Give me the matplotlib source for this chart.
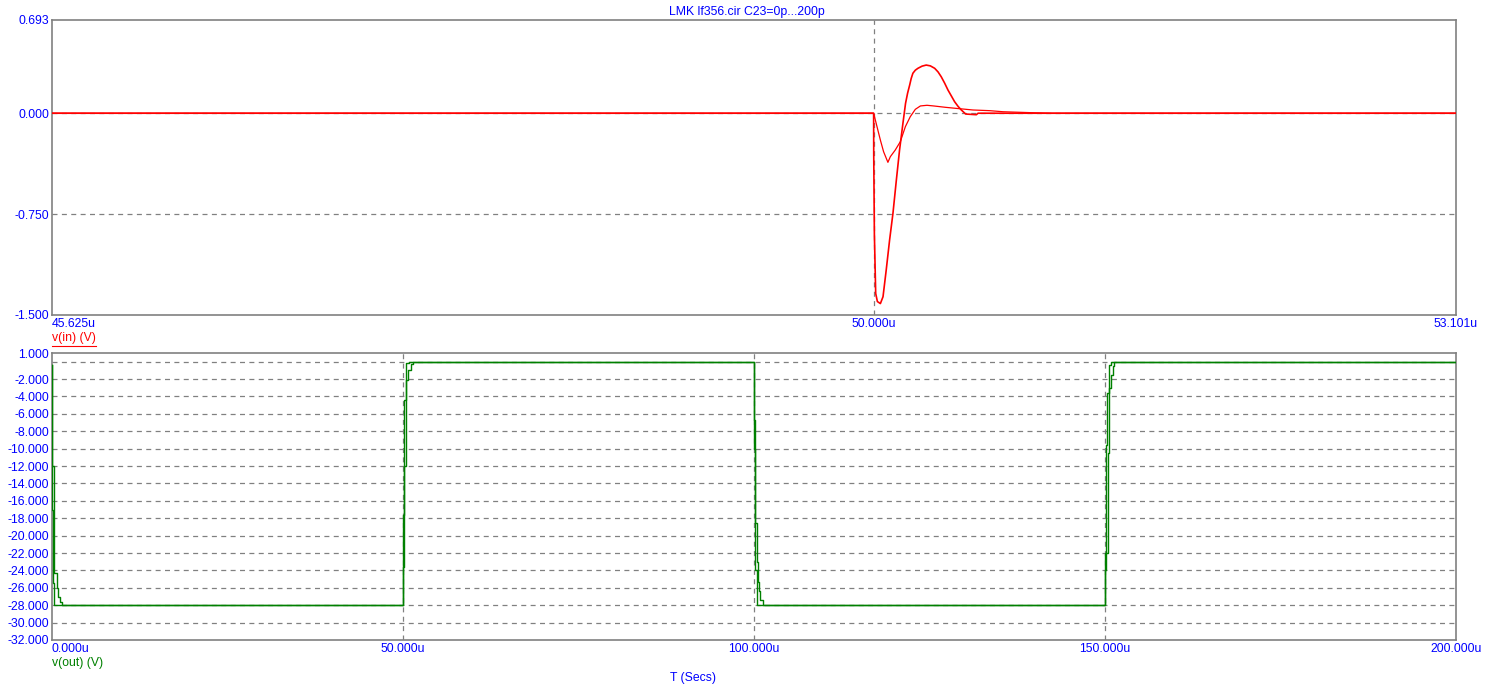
import matplotlib

matplotlib.use("Agg")
import matplotlib.pyplot as plt
from matplotlib.lines import Line2D


OUTPUT_PATH = "out.png"

BLUE = "#0000ff"
RED = "#ff0000"
GREEN = "#008000"
GRAY = "#808080"

TITLE = "LMK lf356.cir C23=0p...200p"

# top panel: v(in), time in microseconds
VIN_XLIM = (45.625, 53.101)
VIN_YLIM = (-1.5, 0.693)
VIN_XTICKS = [45.625, 50.0, 53.101]
VIN_YTICKS = [0.693, 0.0, -0.75, -1.5]
VIN_HGRID = [0.0, -0.75]
VIN_VGRID = [50.0]

vin_big_t = [45.625, 50.0, 50.0005, 50.004, 50.011, 50.02, 50.036, 50.05, 50.067, 50.085,
             50.103, 50.121, 50.138, 50.156, 50.17, 50.181, 50.192, 50.2, 50.209, 50.222,
             50.236, 50.258, 50.28, 50.302, 50.325, 50.343, 50.36, 50.378, 50.396, 50.414,
             50.431, 50.449, 50.467, 50.49, 50.547, 50.556, 53.101]
vin_big_v = [0.0, 0.0, -0.3, -0.9, -1.34, -1.40, -1.415, -1.364, -1.166, -0.943,
             -0.743, -0.497, -0.274, -0.075, 0.074, 0.15, 0.21, 0.258, 0.297, 0.320,
             0.334, 0.350, 0.358, 0.352, 0.334, 0.307, 0.271, 0.224, 0.172, 0.128,
             0.086, 0.052, 0.024, -0.006, -0.011, 0.0, 0.0]

vin_small_t = [45.625, 50.0, 50.018, 50.036, 50.053, 50.076, 50.089, 50.115, 50.142, 50.169,
               50.195, 50.222, 50.249, 50.284, 50.32, 50.382, 50.44, 50.529, 50.618, 50.689,
               50.84, 50.95, 53.101]
vin_small_v = [0.0, 0.0, -0.1, -0.2, -0.286, -0.365, -0.323, -0.274, -0.212, -0.1,
               -0.026, 0.029, 0.054, 0.059, 0.054, 0.044, 0.036, 0.024, 0.019, 0.011,
               0.004, 0.0, 0.0]

# bottom panel: v(out), time in microseconds
VOUT_XLIM = (0.0, 200.0)
VOUT_YLIM = (-32.0, 1.0)
VOUT_XTICKS = [0.0, 50.0, 100.0, 150.0, 200.0]
VOUT_YTICKS = [1.0, -2.0, -4.0, -6.0, -8.0, -10.0, -12.0, -14.0, -16.0, -18.0, -20.0,
               -22.0, -24.0, -26.0, -28.0, -30.0, -32.0]
VOUT_HGRID = [0.0, -2.0, -4.0, -6.0, -8.0, -10.0, -12.0, -14.0, -16.0, -18.0, -20.0,
              -22.0, -24.0, -26.0, -28.0, -30.0]
VOUT_VGRID = [50.0, 100.0, 150.0]

vout_fast_t = [0.0, 0.03, 0.12, 0.25, 0.35,
               50.0, 50.02, 50.17, 50.45, 50.8,
               100.0, 100.03, 100.2, 100.43,
               150.0, 150.02, 150.14, 150.25, 150.5, 150.8,
               200.0]
vout_fast_v = [-0.4, -17.0, -25.5, -27.6, -28.0,
               -28.0, -17.6, -4.4, -0.15, 0.0,
               0.0, -10.0, -24.0, -28.0,
               -28.0, -23.9, -9.6, -3.6, -0.4, 0.0,
               0.0]

vout_slow_t = [0.0, 0.05, 0.33, 0.67, 0.9, 1.14, 1.38,
               50.0, 50.05, 50.2, 50.48, 50.7, 51.2, 51.4,
               100.0, 100.02, 100.2, 100.43, 100.57, 100.7, 100.9, 101.35,
               150.0, 150.05, 150.37, 150.5, 150.6, 150.85, 151.1, 151.3,
               200.0]
vout_slow_v = [-0.4, -12.0, -24.3, -26.0, -27.0, -27.6, -28.0,
               -28.0, -23.6, -12.0, -2.1, -0.95, -0.26, 0.0,
               0.0, -6.7, -18.5, -23.0, -25.3, -26.4, -27.4, -28.0,
               -28.0, -22.0, -10.5, -5.7, -3.0, -1.5, -0.5, 0.0,
               0.0]

FONT = "Liberation Sans"
FONT_SIZE = 8.8


def style_axes(ax, xlim, ylim, xticks, yticks, hgrid, vgrid):
    ax.set_xlim(*xlim)
    ax.set_ylim(*ylim)

    for value in hgrid:
        ax.axhline(value, color=GRAY, lw=0.9, dashes=(4, 3.5), zorder=1)
    for value in vgrid:
        ax.axvline(value, color=GRAY, lw=0.9, dashes=(4, 3.5), zorder=1)

    ax.set_xticks(xticks)
    ax.set_xticklabels([f"{t:.3f}u" for t in xticks])
    ax.set_yticks(yticks)
    ax.set_yticklabels([f"{v:.3f}" for v in yticks])
    ax.tick_params(length=0, pad=2, labelsize=FONT_SIZE, labelcolor=BLUE)
    ax.get_xticklabels()[0].set_ha("left")

    for spine in ax.spines.values():
        spine.set_color(GRAY)
        spine.set_linewidth(1.2)


def main():
    plt.rcParams["font.family"] = [FONT, "DejaVu Sans"]

    fig = plt.figure(figsize=(14.88, 7.0), dpi=100)

    ax_in = fig.add_axes([52 / 1488, 1 - 315 / 700, 1404 / 1488, 295 / 700])
    ax_out = fig.add_axes([52 / 1488, 1 - 640 / 700, 1404 / 1488, 287 / 700])

    style_axes(ax_in, VIN_XLIM, VIN_YLIM, VIN_XTICKS, VIN_YTICKS, VIN_HGRID, VIN_VGRID)
    style_axes(ax_out, VOUT_XLIM, VOUT_YLIM, VOUT_XTICKS, VOUT_YTICKS, VOUT_HGRID, VOUT_VGRID)

    ax_in.plot(vin_small_t, vin_small_v, color=RED, lw=0.9, zorder=3)
    ax_in.plot(vin_big_t, vin_big_v, color=RED, lw=1.2, zorder=3)

    ax_out.plot(vout_slow_t, vout_slow_v, color=GREEN, lw=1.0, drawstyle="steps-post", zorder=3)
    ax_out.plot(vout_fast_t, vout_fast_v, color=GREEN, lw=1.0, drawstyle="steps-post", zorder=3)

    fig.text(747 / 1488, 1 - 12 / 700, TITLE, color=BLUE, fontsize=FONT_SIZE,
             ha="center", va="center")
    vin_label = fig.text(52 / 1488, 1 - 338 / 700, "v(in) (V)", color=RED,
                         fontsize=FONT_SIZE, ha="left", va="center")
    fig.text(52 / 1488, 1 - 663 / 700, "v(out) (V)", color=GREEN, fontsize=FONT_SIZE,
             ha="left", va="center")
    fig.text(693 / 1488, 1 - 678 / 700, "T (Secs)", color=BLUE, fontsize=FONT_SIZE,
             ha="center", va="center")

    # underline the selected trace label
    fig.canvas.draw()
    bbox = vin_label.get_window_extent()
    y_line = 1 - 346 / 700
    fig.add_artist(Line2D([bbox.x0 / 1488, bbox.x1 / 1488], [y_line, y_line],
                          color=RED, lw=0.8, transform=fig.transFigure))

    fig.savefig(OUTPUT_PATH, dpi=100)
    plt.close(fig)


if __name__ == "__main__":
    main()
